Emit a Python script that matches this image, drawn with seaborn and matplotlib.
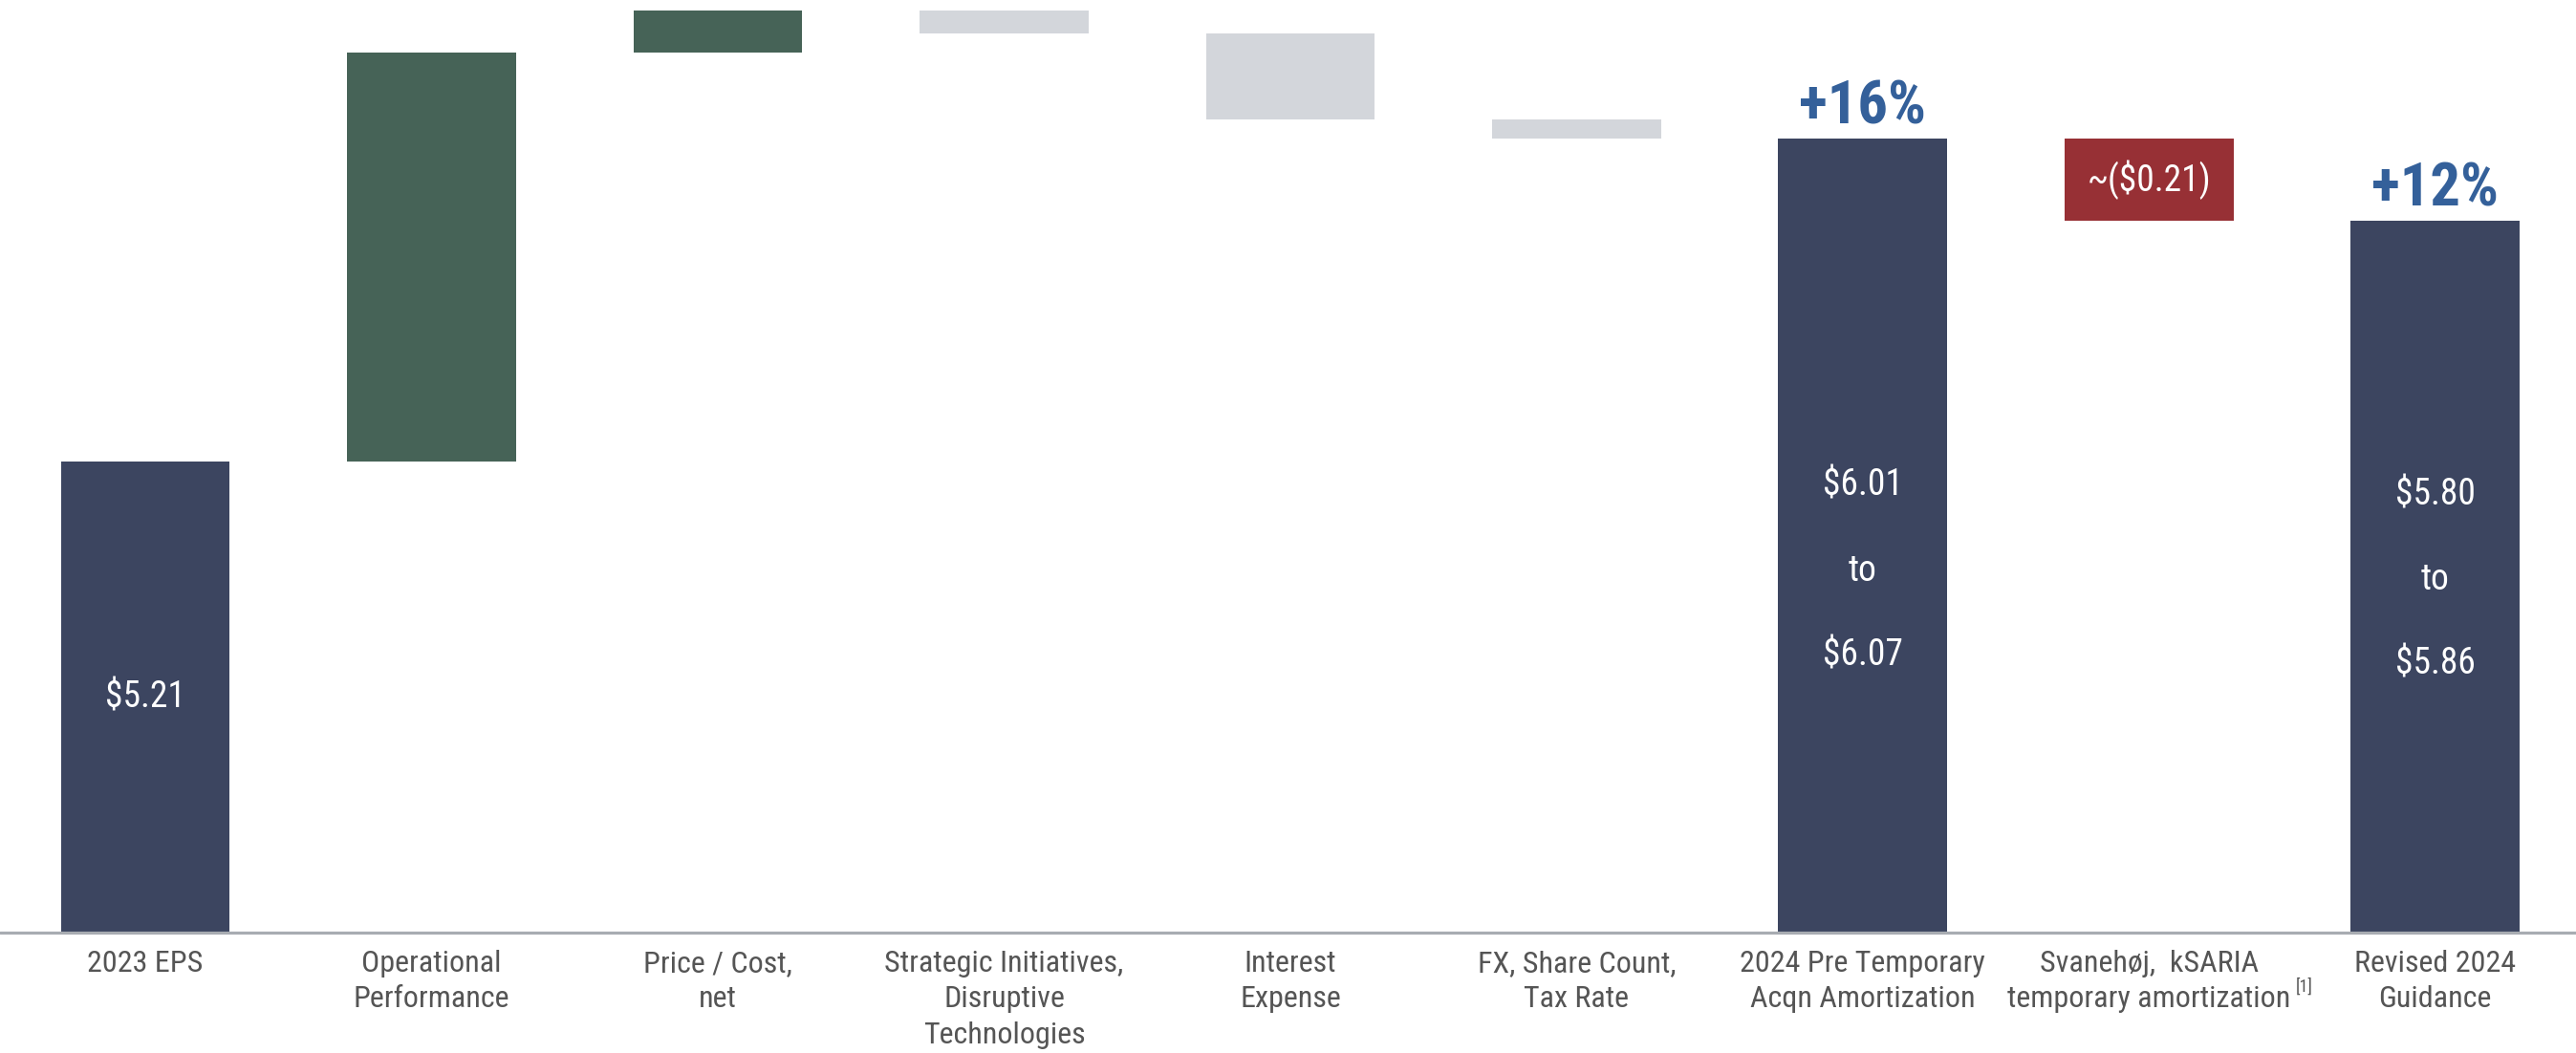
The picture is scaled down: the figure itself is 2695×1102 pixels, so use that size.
import matplotlib
matplotlib.use("Agg")
import matplotlib.pyplot as plt
from matplotlib import font_manager as fm
import seaborn as sns
import pandas as pd

# ---------------- data ----------------
categories = [
    "2023 EPS",
    "Operational\nPerformance",
    "Price / Cost,\nnet",
    "Strategic Initiatives,\nDisruptive\nTechnologies",
    "Interest\nExpense",
    "FX, Share Count,\nTax Rate",
    "2024 Pre Temporary\nAcqn Amortization",
    "Svanehøj,  kSARIA\ntemporary amortization",
    "Revised 2024\nGuidance",
]
eps_2023 = 5.21
bridge_changes = [1.05, 0.11, -0.06, -0.22, -0.05]
pre_amort_range = (6.01, 6.07)
amortization = -0.21
revised_range = (5.80, 5.86)
growth_labels = ["+16%", "+12%"]
amort_label = "~($0.21)"
axis_floor = 4.0

# ---------------- derived bar geometry ----------------
pre_mid = sum(pre_amort_range) / 2
rev_mid = sum(revised_range) / 2
tops, bottoms, kinds = [eps_2023], [axis_floor], ["total"]
level = eps_2023
for c in bridge_changes:
    new = level + c
    tops.append(max(level, new)); bottoms.append(min(level, new))
    kinds.append("up" if c > 0 else "down")
    level = new
tops.append(pre_mid); bottoms.append(axis_floor); kinds.append("total")
tops.append(pre_mid); bottoms.append(pre_mid + amortization); kinds.append("amort")
tops.append(rev_mid); bottoms.append(axis_floor); kinds.append("total")

colors = {"total": "#3c4560", "up": "#466357", "down": "#d3d6db", "amort": "#973035"}
df = pd.DataFrame({"cat": categories, "top": tops, "bottom": bottoms, "kind": kinds})

# ---------------- fonts ----------------
names = {f.name for f in fm.fontManager.ttflist}
fam = None
for cand in ["Roboto Condensed", "Liberation Sans Narrow", "Arial Narrow"]:
    if cand in names:
        fam = cand
        break
stretch = "normal"
if fam is None:
    fam = "DejaVu Sans"
    stretch = "condensed"
bold_fam = "Liberation Sans Narrow" if "Liberation Sans Narrow" in names else fam

sns.set_theme(style="white")
plt.rcParams["font.family"] = [fam, "DejaVu Sans"]
plt.rcParams["font.stretch"] = stretch

fig = plt.figure(figsize=(26.95, 11.02), dpi=100)
ax = fig.add_axes([0, 0.1143, 1, 0.8857])

pal = [colors[k] for k in kinds]
sns.barplot(data=df, x="cat", y="top", hue="cat", palette=pal, legend=False,
            width=0.59, saturation=1, linewidth=0, ax=ax, order=categories,
            hue_order=categories)
sns.barplot(data=df, x="cat", y="bottom", color="white", width=0.60,
            saturation=1, linewidth=0, ax=ax, order=categories)

ax.set_xlim(-0.508, len(categories) - 0.508)
ax.set_ylim(axis_floor, 6.396)
for s in ax.spines.values():
    s.set_visible(False)
ax.set_yticks([])
ax.set_xlabel("")
ax.set_ylabel("")
ax.axhline(axis_floor, color="#a8acb2", lw=2.3, zorder=5, clip_on=False)
ax.tick_params(axis="x", length=0, pad=13, labelsize=23, labelcolor="#555555")
for t in ax.get_xticklabels():
    t.set_linespacing(1.36)

# ---------------- labels ----------------
white_kw = dict(color="white", fontsize=27, ha="center", va="center", zorder=6)
ax.text(0, (axis_floor + eps_2023) / 2, f"${eps_2023:.2f}", **white_kw)

for xi, rng, top in [(6, pre_amort_range, pre_mid), (8, revised_range, rev_mid)]:
    ry = (axis_floor + rev_mid) / 2 - 0.008 + 0.11 * (top - rev_mid)
    ax.annotate(f"${rng[0]:.2f}", (xi, ry), xytext=(0, 64), textcoords="offset points", **white_kw)
    ax.annotate("to", (xi, ry), xytext=(0, 0), textcoords="offset points", **white_kw)
    ax.annotate(f"${rng[1]:.2f}", (xi, ry), xytext=(0, -64), textcoords="offset points", **white_kw)

ax.text(7, pre_mid + amortization / 2, amort_label, **white_kw)

for xi, top, lab in [(6, pre_mid, growth_labels[0]), (8, rev_mid, growth_labels[1])]:
    ax.annotate(lab, (xi, top), xytext=(0, 11), textcoords="offset points",
                ha="center", va="baseline", fontsize=45, fontweight="bold",
                color="#34609a", family=[bold_fam, "DejaVu Sans"], zorder=6)

fig.canvas.draw()
tl = ax.get_xticklabels()[7]
ax.annotate("[1]", xy=(1, 0.5), xycoords=tl, xytext=(4, 3), textcoords="offset points",
            ha="left", va="top", fontsize=13, color="#555555", annotation_clip=False)

fig.savefig("out.png", dpi=100, facecolor="white")
